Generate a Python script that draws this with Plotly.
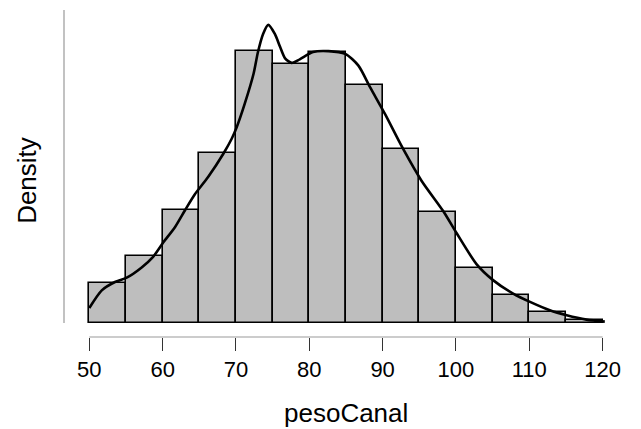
import plotly.graph_objects as go

# histogram bins (left edges) and densities
bin_left = [50, 55, 60, 65, 70, 75, 80, 85, 90, 95, 100, 105, 110, 115]
bin_density = [0.00441, 0.00736, 0.01251, 0.01876, 0.03001, 0.02862, 0.02987,
               0.02626, 0.01920, 0.01229, 0.00604, 0.00309, 0.00126, 0.00030]
bin_width = 5

# kernel density curve
kde_x = [50.0, 51.7, 53.5, 55.1, 57.1, 58.7, 60.1, 61.7, 63.05, 64.4, 66.2, 68.3,
         69.4, 70.1, 71.2, 72.4, 73.0, 73.7, 74.4, 75.3, 76.0, 76.7, 77.6, 78.7,
         80.5, 82.6, 84.9, 86.7, 88.3, 90.3, 92.8, 95.3, 98.3, 100.1, 102.8,
         105.1, 107.8, 110.1, 112.8, 115.1, 117.8, 120.3]
kde_y = [0.00165, 0.0036, 0.00452, 0.0050, 0.0061, 0.0073, 0.0089, 0.0106,
         0.01244, 0.0142, 0.0161, 0.0187, 0.0203, 0.0216, 0.0242, 0.0275, 0.0299,
         0.0319, 0.0329, 0.0319, 0.0305, 0.0292, 0.0287, 0.0291, 0.0299, 0.0300,
         0.0297, 0.0284, 0.0260, 0.0231, 0.0192, 0.0157, 0.0123, 0.0099, 0.0065,
         0.0047, 0.00324, 0.00232, 0.0014, 0.00085, 0.00037, 0.00015]

x_ticks = [50, 60, 70, 80, 90, 100, 110, 120]

fig = go.Figure()
fig.add_trace(go.Bar(
    x=[b + bin_width / 2 for b in bin_left], y=bin_density, width=bin_width,
    marker=dict(color="#BEBEBE", line=dict(color="black", width=1.6)),
    hoverinfo="skip"))
fig.add_trace(go.Scatter(
    x=kde_x, y=kde_y, mode="lines",
    line=dict(color="black", width=2.6, shape="spline", smoothing=0.7)))

ytop = 0.03454
ybot = -0.00155
fig.update_layout(
    width=641, height=429, showlegend=False,
    plot_bgcolor="white", paper_bgcolor="white",
    margin=dict(l=64, r=18, t=10, b=92),
    bargap=0,
    font=dict(family="Liberation Sans, Arial, sans-serif", size=22, color="black"),
    xaxis=dict(range=[46.55, 122.78], tickvals=x_ticks, ticks="outside", ticklen=13,
               tickcolor="#333333", tickwidth=1.2, showgrid=False, zeroline=False,
               showline=False, tickfont=dict(size=22)),
    yaxis=dict(range=[ybot, ytop], showticklabels=False, showgrid=False,
               zeroline=False, showline=False, ticks=""),
    shapes=[
        dict(type="line", xref="x", yref="paper", x0=50, x1=120, y0=0, y1=0,
             line=dict(color="#999999", width=1.2)),
        dict(type="line", xref="paper", yref="y", x0=0, x1=0, y0=0, y1=ytop,
             line=dict(color="#999999", width=1.2)),
    ],
    annotations=[
        dict(text="pesoCanal", xref="x", yref="paper", x=85, y=-0.232,
             showarrow=False, font=dict(size=26), yanchor="middle"),
        dict(text="Density", xref="paper", yref="paper", x=-0.0665, y=0.48,
             textangle=-90, showarrow=False, font=dict(size=26), xanchor="center",
             yanchor="middle"),
    ],
)
fig.write_html("out.html")
